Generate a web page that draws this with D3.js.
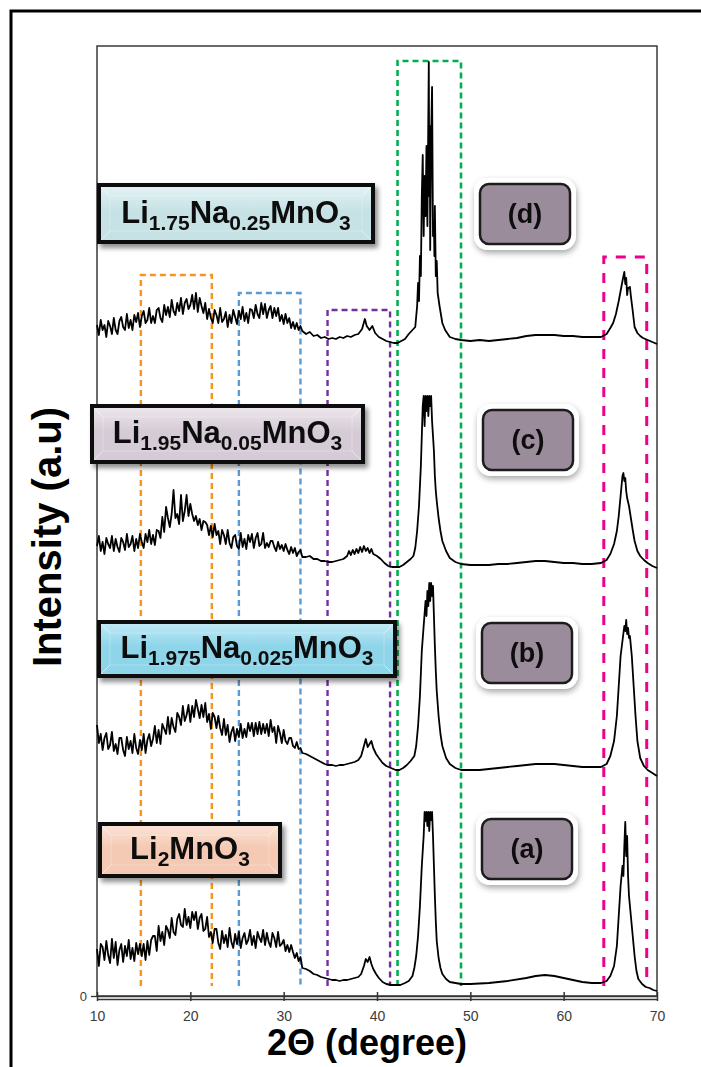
<!DOCTYPE html>
<html>
<head>
<meta charset="utf-8">
<script src="https://cdn.jsdelivr.net/npm/d3@7"></script>
<style>
  body { margin: 0; background: #fff; }
  svg { display: block; font-family: "Liberation Sans", Arial, sans-serif; }
</style>
</head>
<body>
<svg id="chart" width="701" height="1067"></svg>
<script>
// ---------- data ----------
const twoThetaTicks = [10, 20, 30, 40, 50, 60, 70];
const intensityTicks = [0];
const sampleLetters = ["(a)", "(b)", "(c)", "(d)"];
// chemical formulas: [text, isSubscript]
const formulaA = [["Li", 0], ["2", 1], ["MnO", 0], ["3", 1]];
const formulaB = [["Li", 0], ["1.975", 1], ["Na", 0], ["0.025", 1], ["MnO", 0], ["3", 1]];
const formulaC = [["Li", 0], ["1.95", 1], ["Na", 0], ["0.05", 1], ["MnO", 0], ["3", 1]];
const formulaD = [["Li", 0], ["1.75", 1], ["Na", 0], ["0.25", 1], ["MnO", 0], ["3", 1]];

// highlighted 2θ windows: [from, to, top intensity]
const regionOrange = [14.7, 22.3, 721];
const regionBlue   = [25.2, 31.8, 703];
const regionPurple = [34.7, 41.4, 686];
const regionGreen  = [42.2, 49.0, 935];
const regionPink   = [64.3, 68.9, 739];
const regionFloor = 10;

// low-angle scan, 10.0° to 32.0° in 0.2° steps (stacked intensity, a.u.)
const lowA = [47,30,52,49,36,55,41,33,57,38,54,31,46,52,34,50,40,56,37,48,35,53,42,52,40,52,36,55,41,56,60,60,45,70,55,64,51,70,66,58,78,64,61,77,82,71,69,87,71,79,68,84,76,84,67,78,82,65,67,79,59,64,53,67,67,53,47,65,53,61,49,68,54,48,62,52,64,48,58,63,52,56,66,51,60,48,64,58,54,66,51,63,54,49,63,58,49,64,50,52,56,45,51,44,51,44,38,43,35,39,28];
const lowB = [271,253,262,246,258,263,247,251,264,245,252,242,258,258,246,240,259,247,255,243,262,248,242,256,246,262,243,256,262,250,257,270,253,266,252,272,267,262,279,262,278,269,264,283,279,271,290,275,281,291,274,290,279,296,287,278,291,279,293,274,282,267,283,279,268,280,268,261,277,261,271,254,264,269,255,267,259,272,258,267,259,273,265,273,260,273,262,274,262,272,263,272,260,276,264,269,253,270,263,253,266,255,252,258,258,250,248,254,247,248,243];
const lowC = [450,460,445,454,442,458,452,448,460,445,457,449,444,458,454,446,462,449,452,460,445,457,448,462,454,448,462,454,466,452,461,451,466,465,458,479,464,489,478,469,482,506,478,482,472,501,475,485,501,480,492,482,475,480,471,477,466,475,474,471,461,470,459,472,461,465,452,466,461,452,466,453,448,459,461,450,447,463,449,457,447,461,454,462,448,458,463,450,452,463,448,453,449,455,455,449,445,454,447,451,445,452,446,442,449,443,448,440,444,446,439];
const lowD = [671,661,676,666,671,659,675,670,662,678,666,662,675,679,669,666,682,668,676,666,681,674,683,669,680,685,673,676,688,673,680,673,686,688,678,674,691,681,689,679,696,685,681,693,685,698,682,693,697,687,691,701,687,703,684,698,690,683,693,677,687,678,673,686,681,673,688,674,677,684,669,681,673,686,679,672,685,677,689,675,683,673,687,686,678,691,682,678,693,682,692,678,686,690,678,688,680,688,675,681,672,682,673,678,668,674,667,673,666,670,665];

// high-angle scan, [2θ, intensity]
const highA = [[32.4,27],[32.8,25],[33.2,22],[33.6,21],[34.0,19],[34.4,18],[34.8,17],[35.2,16],[35.6,16],[36.0,15],[36.4,16],[36.8,16],[37.2,17],[37.6,18],[38.0,19],[38.3,22],[38.6,30],[38.8,37],[39.0,34],[39.2,39],[39.4,32],[39.6,27],[39.9,22],[40.2,18],[40.6,14],[41.0,12],[41.5,11],[42.0,11],[42.5,11],[43.0,13],[43.4,15],[43.8,20],[44.0,28],[44.2,40],[44.4,60],[44.6,90],[44.8,130],[45.0,160],[45.1,184],[45.2,175],[45.3,184],[45.4,170],[45.5,184],[45.6,165],[45.7,184],[45.8,176],[45.9,184],[46.0,160],[46.1,130],[46.2,100],[46.3,75],[46.4,55],[46.6,38],[46.8,28],[47.0,22],[47.4,17],[47.8,14],[48.4,13],[49,12],[50,12],[52,13],[54,15],[56,18],[57,20],[58,21],[59,20],[60,18],[61,16],[62,14],[63,13],[64,13],[64.6,15],[65.0,20],[65.4,30],[65.7,50],[65.9,80],[66.1,110],[66.3,130],[66.4,120],[66.5,150],[66.6,174],[66.7,140],[66.8,160],[66.9,120],[67.0,100],[67.2,80],[67.4,60],[67.6,40],[67.8,25],[68.0,17],[68.4,12],[68.8,9],[69.2,8],[69.6,6],[70.0,5]];
const highB = [[32.4,242],[32.8,240],[33.2,238],[33.6,236],[34.0,234],[34.4,232],[34.8,231],[35.2,231],[35.6,230],[36.0,231],[36.4,231],[36.8,232],[37.2,233],[37.6,234],[38.0,236],[38.3,240],[38.6,250],[38.8,257],[39.0,249],[39.2,252],[39.4,255],[39.6,248],[39.9,242],[40.2,238],[40.6,233],[41.0,230],[41.5,228],[42.0,226],[42.4,226],[42.8,228],[43.2,231],[43.6,235],[44.0,240],[44.2,250],[44.4,270],[44.6,300],[44.8,345],[45.0,370],[45.2,395],[45.3,380],[45.4,405],[45.5,390],[45.6,413],[45.7,395],[45.8,413],[45.9,400],[46.0,410],[46.1,380],[46.2,350],[46.3,325],[46.4,305],[46.6,280],[46.8,262],[47.0,250],[47.4,238],[47.8,232],[48.4,228],[49,226],[50,226],[51,226],[52,227],[53,228],[54,229],[55,230],[56,231],[57,232],[58,232],[59,232],[60,231],[61,230],[62,229],[63,229],[64,229],[64.6,232],[65.0,240],[65.4,255],[65.7,280],[65.9,310],[66.1,340],[66.3,355],[66.5,370],[66.6,365],[66.7,376],[66.8,362],[66.9,368],[67.0,358],[67.1,360],[67.3,340],[67.5,310],[67.7,280],[67.9,255],[68.2,238],[68.6,230],[69.0,226],[69.5,223],[70.0,220]];
const highC = [[32.4,439],[32.8,440],[33.2,437],[33.6,437],[34.0,435],[34.4,435],[34.8,434],[35.2,434],[35.6,435],[36.0,436],[36.4,437],[36.8,440],[37.0,445],[37.2,441],[37.4,446],[37.6,442],[37.8,447],[38.0,443],[38.2,449],[38.4,444],[38.6,450],[38.8,445],[39.0,448],[39.2,443],[39.4,447],[39.6,442],[40.0,440],[40.4,437],[40.8,433],[41.2,430],[41.6,429],[42.0,429],[42.4,429],[42.8,431],[43.2,434],[43.6,437],[43.9,440],[44.1,448],[44.3,465],[44.5,490],[44.7,530],[44.8,560],[44.9,590],[45.0,600],[45.1,570],[45.2,600],[45.3,585],[45.4,600],[45.5,580],[45.6,600],[45.7,590],[45.8,600],[45.9,575],[46.0,560],[46.1,545],[46.2,520],[46.3,505],[46.4,495],[46.6,478],[46.8,465],[47.0,455],[47.4,445],[47.8,438],[48.4,434],[49,432],[50,431],[51,431],[52,431],[53,432],[54,432],[55,433],[56,434],[57,435],[58,435],[59,434],[60,433],[61,433],[62,432],[63,432],[64,433],[64.6,436],[65.0,442],[65.4,452],[65.7,465],[65.9,480],[66.1,500],[66.3,520],[66.4,523],[66.5,515],[66.6,518],[66.7,505],[66.8,498],[67.0,490],[67.2,478],[67.4,466],[67.6,455],[67.9,445],[68.2,440],[68.6,436],[69.0,433],[69.5,430],[70.0,428]];
const highD = [[32.4,662],[32.8,664],[33.2,660],[33.6,661],[34.0,658],[34.4,659],[34.8,657],[35.2,658],[35.6,657],[36.0,659],[36.4,658],[36.8,660],[37.2,659],[37.6,661],[38.0,662],[38.4,667],[38.7,677],[38.9,670],[39.2,666],[39.5,670],[39.8,663],[40.2,659],[40.6,657],[41.0,655],[41.4,654],[41.8,653],[42.2,653],[42.6,655],[43.0,657],[43.4,662],[43.8,666],[44.1,669],[44.3,690],[44.4,713],[44.5,695],[44.6,740],[44.7,720],[44.8,800],[44.9,841],[45.0,760],[45.1,820],[45.2,780],[45.3,850],[45.4,770],[45.5,880],[45.55,934],[45.6,800],[45.65,870],[45.7,746],[45.8,860],[45.9,909],[46.0,760],[46.1,774],[46.15,740],[46.2,790],[46.3,720],[46.4,735],[46.5,703],[46.7,690],[47.0,673],[47.3,666],[47.8,659],[48.4,657],[49,656],[50,655],[51,656],[52,655],[53,656],[54,657],[55,658],[56,660],[57,661],[58,661],[59,661],[60,660],[61,660],[62,659],[63,659],[64,659],[64.6,662],[65.0,668],[65.3,673],[65.6,682],[65.9,695],[66.1,705],[66.3,715],[66.5,724],[66.6,712],[66.7,718],[66.8,701],[66.9,708],[67.1,709],[67.2,700],[67.4,685],[67.6,669],[67.9,663],[68.2,660],[68.5,658],[69.0,656],[69.5,654],[70.0,652]];

// ---------- layout ----------
const svg = d3.select("#chart");
const W = 701, H = 1067;
const plot = { left: 97, right: 657, top: 46, bottom: 996 };

const x = d3.scaleLinear().domain([10, 70]).range([plot.left, plot.right]);
const y = d3.scaleLinear().domain([0, 950]).range([plot.bottom, plot.top]);

const defs = svg.append("defs");
const shadow = defs.append("filter").attr("id", "shadow")
  .attr("x", "-10%").attr("y", "-20%").attr("width", "130%").attr("height", "160%");
shadow.append("feGaussianBlur").attr("in", "SourceAlpha").attr("stdDeviation", 2.5).attr("result", "b");
shadow.append("feOffset").attr("in", "b").attr("dx", 3).attr("dy", 4).attr("result", "o");
shadow.append("feComponentTransfer").attr("in", "o").attr("result", "s")
  .append("feFuncA").attr("type", "linear").attr("slope", 0.45);
const m = shadow.append("feMerge");
m.append("feMergeNode").attr("in", "s");
m.append("feMergeNode").attr("in", "SourceGraphic");

const glow = defs.append("filter").attr("id", "glow")
  .attr("x", "-20%").attr("y", "-30%").attr("width", "140%").attr("height", "160%");
glow.append("feGaussianBlur").attr("in", "SourceAlpha").attr("stdDeviation", 3).attr("result", "b");
glow.append("feOffset").attr("in", "b").attr("dx", 1).attr("dy", 3).attr("result", "o");
glow.append("feComponentTransfer").attr("in", "o").attr("result", "s")
  .append("feFuncA").attr("type", "linear").attr("slope", 0.35);
const m2 = glow.append("feMerge");
m2.append("feMergeNode").attr("in", "s");
m2.append("feMergeNode").attr("in", "SourceGraphic");

// outer frame
svg.append("rect").attr("x", 11).attr("y", 11).attr("width", W + 20).attr("height", H + 20)
  .attr("fill", "#fff").attr("stroke", "#000").attr("stroke-width", 3);

// plot frame
svg.append("rect")
  .attr("x", plot.left).attr("y", plot.top)
  .attr("width", plot.right - plot.left).attr("height", plot.bottom - plot.top)
  .attr("fill", "none").attr("stroke", "#3a3a3a").attr("stroke-width", 1.5);

// dashed highlight windows
const regions = [
  { r: regionOrange, color: "#f7941d", dash: "6,4", w: 2.4 },
  { r: regionBlue,   color: "#5b9bd5", dash: "6,4", w: 2.4 },
  { r: regionPurple, color: "#7030a0", dash: "6,4", w: 2.4 },
  { r: regionGreen,  color: "#00b050", dash: "6,4", w: 2.6 },
  { r: regionPink,   color: "#ec008c", dash: "10,9", w: 3 }
];
svg.append("g").selectAll("path").data(regions).join("path")
  .attr("d", d => `M${x(d.r[0])},${y(regionFloor)}V${y(d.r[2])}H${x(d.r[1])}V${y(regionFloor)}`)
  .attr("fill", "none").attr("stroke", d => d.color)
  .attr("stroke-width", d => d.w).attr("stroke-dasharray", d => d.dash);

// diffraction traces
const lowGrid = d3.range(lowA.length).map(i => 10 + i * 0.2);
const traces = [
  lowA.map((v, i) => [lowGrid[i], v]).concat(highA),
  lowB.map((v, i) => [lowGrid[i], v]).concat(highB),
  lowC.map((v, i) => [lowGrid[i], v]).concat(highC),
  lowD.map((v, i) => [lowGrid[i], v]).concat(highD)
];
const line = d3.line().x(d => x(d[0])).y(d => y(d[1]));
svg.append("g").selectAll("path").data(traces).join("path")
  .attr("d", line).attr("fill", "none").attr("stroke", "#000")
  .attr("stroke-width", 1.8).attr("stroke-linejoin", "round");

// x axis (double rule)
const xAxis = svg.append("g").attr("transform", `translate(0,${plot.bottom})`)
  .call(d3.axisBottom(x).tickValues(twoThetaTicks).tickSizeInner(5).tickSizeOuter(0).tickPadding(10));
xAxis.select(".domain").attr("stroke", "#333").attr("stroke-width", 1.3);
xAxis.selectAll(".tick line").attr("stroke", "#333").attr("stroke-width", 1.5).attr("y1", -4);
xAxis.selectAll(".tick text").attr("font-size", 14).attr("fill", "#3c3c3c")
  .attr("font-family", "Liberation Sans, Arial, sans-serif");
svg.append("line").attr("x1", plot.left).attr("x2", plot.right)
  .attr("y1", plot.bottom + 3.5).attr("y2", plot.bottom + 3.5)
  .attr("stroke", "#333").attr("stroke-width", 1.3);

// y axis: only the zero level is marked
const yAxis = svg.append("g").attr("transform", `translate(${plot.left},0)`)
  .call(d3.axisLeft(y).tickValues(intensityTicks).tickSizeInner(6).tickSizeOuter(0).tickPadding(4));
yAxis.select(".domain").remove();
yAxis.selectAll(".tick line").attr("stroke", "#333").attr("stroke-width", 1.3);
yAxis.selectAll(".tick text").attr("font-size", 13).attr("fill", "#3c3c3c")
  .attr("font-family", "Liberation Sans, Arial, sans-serif");

// axis titles
svg.append("text").attr("x", 367).attr("y", 1055).attr("text-anchor", "middle")
  .attr("font-size", 36).attr("font-weight", "bold").attr("fill", "#000").text("2Θ (degree)");
svg.append("text").attr("transform", "translate(61,537) rotate(-90)").attr("text-anchor", "middle")
  .attr("font-size", 40).attr("font-weight", "bold").attr("fill", "#000").text("Intensity (a.u)");

// formula boxes
function formulaBox(parts, bx, by, bw, bh, base, light) {
  const g = svg.append("g").attr("filter", "url(#shadow)");
  const id = "g" + Math.round(bx) + "_" + Math.round(by);
  const gr = defs.append("linearGradient").attr("id", id).attr("x1", 0).attr("y1", 0).attr("x2", 0).attr("y2", 1);
  gr.append("stop").attr("offset", "0%").attr("stop-color", light);
  gr.append("stop").attr("offset", "45%").attr("stop-color", base);
  gr.append("stop").attr("offset", "100%").attr("stop-color", base);
  g.append("rect").attr("x", bx).attr("y", by).attr("width", bw).attr("height", bh).attr("fill", "#0d0d0d");
  g.append("rect").attr("x", bx + 4).attr("y", by + 4).attr("width", bw - 8).attr("height", bh - 8)
    .attr("fill", `url(#${id})`);
  // bevel edges
  const i = 4, b = 9;
  g.append("path")
    .attr("d", `M${bx+i},${by+i}L${bx+i+b},${by+i+b}M${bx+bw-i},${by+i}L${bx+bw-i-b},${by+i+b}` +
               `M${bx+i},${by+bh-i}L${bx+i+b},${by+bh-i-b}M${bx+bw-i},${by+bh-i}L${bx+bw-i-b},${by+bh-i-b}`)
    .attr("stroke", "#ffffff").attr("stroke-opacity", 0.5).attr("stroke-width", 1);
  g.append("rect").attr("x", bx + i + b).attr("y", by + i + b)
    .attr("width", bw - 2 * (i + b)).attr("height", bh - 2 * (i + b))
    .attr("fill", "none").attr("stroke", "#ffffff").attr("stroke-opacity", 0.25);
  const t = g.append("text").attr("x", bx + bw / 2).attr("y", by + bh / 2 + 9)
    .attr("text-anchor", "middle").attr("fill", "#111").attr("font-weight", "bold");
  let sub = false;
  parts.forEach(([s, isSub]) => {
    const ts = t.append("tspan").text(s);
    if (isSub) {
      ts.attr("font-size", 21).attr("dy", sub ? 0 : 7);
      sub = true;
    } else {
      ts.attr("font-size", 31).attr("dy", sub ? -7 : 0);
      sub = false;
    }
  });
}
formulaBox(formulaD, 97, 183, 278, 61, "#c6e2e5", "#e2f2f3");
formulaBox(formulaC, 90, 404, 275, 60, "#d5cbd6", "#ece6ec");
formulaBox(formulaB, 97, 620, 300, 58, "#8ed5ea", "#bfe9f5");
formulaBox(formulaA, 98, 822, 184, 56, "#f4cab4", "#fbe2d5");

// sample letter tags
const tagCenters = [[527, 849], [527, 653], [528, 440], [525, 214]];
sampleLetters.forEach((s, k) => {
  const [cx, cy] = tagCenters[k];
  const g = svg.append("g").attr("filter", "url(#glow)");
  g.append("rect").attr("x", cx - 51).attr("y", cy - 36).attr("width", 102).attr("height", 72)
    .attr("rx", 14).attr("fill", "#fff");
  g.append("rect").attr("x", cx - 45).attr("y", cy - 30).attr("width", 90).attr("height", 60)
    .attr("rx", 9).attr("fill", "#9b8c9c").attr("stroke", "#1c1c1c").attr("stroke-width", 2.5);
  g.append("text").attr("x", cx).attr("y", cy + 9).attr("text-anchor", "middle")
    .attr("font-size", 27).attr("font-weight", "bold").attr("fill", "#111").text(s);
});
</script>
</body>
</html>
